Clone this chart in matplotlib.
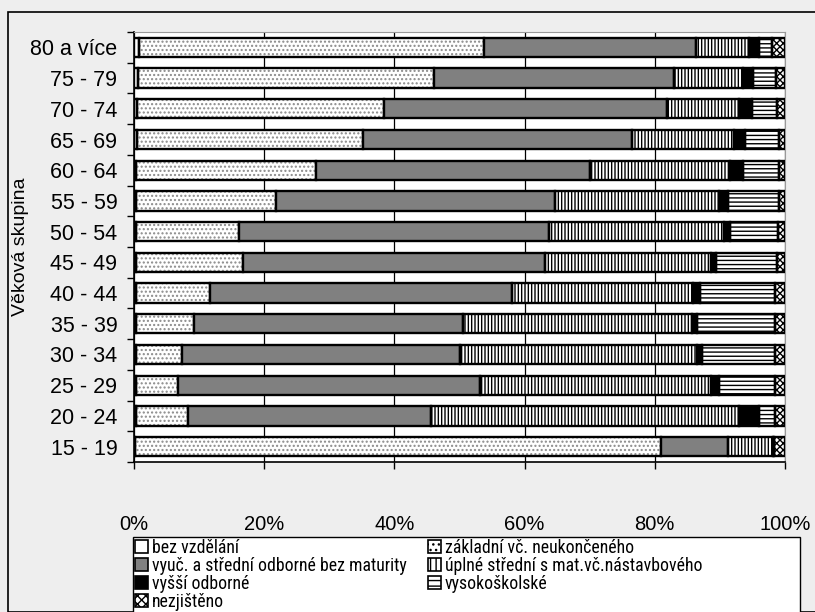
import matplotlib
matplotlib.use("Agg")
import matplotlib.pyplot as plt
from matplotlib.patches import Rectangle, Patch
from matplotlib import font_manager
import numpy as np

plt.rcParams['font.family'] = ['Liberation Sans', 'DejaVu Sans']

groups = ["15 - 19", "20 - 24", "25 - 29", "30 - 34", "35 - 39", "40 - 44", "45 - 49",
          "50 - 54", "55 - 59", "60 - 64", "65 - 69", "70 - 74", "75 - 79", "80 a více"]

series_names = ["bez vzdělání", "základní vč. neukončeného",
                "vyuč. a střední odborné bez maturity", "úplné střední s mat.vč.nástavbového",
                "vyšší odborné", "vysokoškolské", "nezjištěno"]

# shares in % (bottom group first)
bez_vzdelani = [0.1, 0.3, 0.3, 0.3, 0.3, 0.3, 0.3, 0.3, 0.3, 0.3, 0.4, 0.4, 0.6, 0.8]
zakladni     = [80.9, 8.0, 6.5, 7.1, 8.9, 11.4, 16.5, 15.8, 21.5, 27.7, 34.7, 38.0, 45.5, 52.9]
vyuc         = [10.3, 37.3, 46.4, 42.7, 41.4, 46.3, 46.3, 47.7, 42.8, 42.0, 41.4, 43.5, 36.8, 32.6]
uplne        = [6.9, 47.3, 35.4, 36.4, 35.1, 27.9, 25.5, 26.9, 25.2, 21.5, 15.7, 11.1, 10.7, 8.1]
vyssi        = [0.1, 3.1, 1.3, 0.8, 0.8, 1.1, 0.8, 0.9, 1.4, 2.1, 1.7, 1.9, 1.5, 1.6]
vysokoskolske = [0.0, 2.5, 8.5, 11.2, 12.0, 11.5, 9.4, 7.3, 7.9, 5.5, 5.2, 3.9, 3.5, 2.0]
nezjisteno   = [1.7, 1.5, 1.6, 1.5, 1.5, 1.5, 1.2, 1.1, 0.9, 0.9, 0.9, 1.2, 1.4, 2.0]

data = [bez_vzdelani, zakladni, vyuc, uplne, vyssi, vysokoskolske, nezjisteno]

# style: (facecolor, hatch, hatchcolor, legend hatch)
styles = [("white", None, None, None),
          ("white", "....", "#8a8a8a", "..."),
          ("#808080", None, None, None),
          ("white", "|||||", "black", "|||"),
          ("black", None, None, None),
          ("white", "----", "black", "---"),
          ("white", "xxxxx", "black", "xxxx")]

# pick a condensed font for the legend if one is installed
names = {f.name for f in font_manager.fontManager.ttflist}
narrow = None
for cand in ["Liberation Sans Narrow", "Roboto Condensed", "DejaVu Sans Condensed"]:
    if cand in names:
        narrow = cand
        break
if narrow is not None:
    leg_prop = {'family': [narrow, 'Liberation Sans'], 'size': 12.8}
else:
    leg_prop = {'family': ['Liberation Sans'], 'size': 11.8}

fig = plt.figure(figsize=(8.15, 6.12), dpi=100)
fig.patch.set_facecolor("#eeeeee")
fig.patches.append(Rectangle((8/815, 0), 1.0, 1 - 12/612, transform=fig.transFigure,
                             fill=False, edgecolor="black", linewidth=1.2))

ax = fig.add_axes([134/815, 1 - 462/612, 651/815, 430/612])
ax.set_facecolor("white")

y = np.arange(len(groups))
vals = np.array(data, dtype=float)
tot = vals.sum(axis=0)
pct = vals / tot * 100
left = np.zeros(len(groups))
h = 0.63
for i, name in enumerate(series_names):
    fc, hatch, hc, _ = styles[i]
    if hatch:
        ax.barh(y, pct[i], left=left, height=h, color=fc, edgecolor=hc, hatch=hatch,
                linewidth=0, zorder=2)
        ax.barh(y, pct[i], left=left, height=h, fill=False, edgecolor="black",
                linewidth=1.7, zorder=3)
    else:
        ax.barh(y, pct[i], left=left, height=h, color=fc, edgecolor="black",
                linewidth=1.7, zorder=3)
    left += pct[i]

ax.set_xlim(0, 100)
ax.set_ylim(-0.5, len(groups) - 0.5)
ax.set_xticks([0, 20, 40, 60, 80, 100])
ax.set_xticklabels(["0%", "20%", "40%", "60%", "80%", "100%"], fontsize=14.5)
ax.set_yticks(y)
ax.set_yticklabels(groups, fontsize=15.5)
ax.set_yticks(np.arange(len(groups) + 1) - 0.5, minor=True)
ax.tick_params(axis="y", which="major", length=0, pad=12)
ax.tick_params(axis="y", which="minor", length=5, width=1, direction="out")
ax.tick_params(axis="x", which="major", length=5, width=1, direction="out", pad=33)
ax.xaxis.grid(True, color="black", linewidth=0.9, zorder=1)
ax.set_axisbelow(True)
for s in ["top", "right"]:
    ax.spines[s].set_color("#999999")
for s in ["left", "bottom"]:
    ax.spines[s].set_color("black")
    ax.spines[s].set_linewidth(1.2)

ax.set_ylabel("Věková skupina", fontsize=14)
ax.yaxis.set_label_coords((29 - 134) / 651, 0.5)

handles = []
for i, name in enumerate(series_names):
    fc, hatch, hc, lh = styles[i]
    handles.append(Patch(facecolor=fc, edgecolor="black", hatch=lh, linewidth=1.2, label=name))
order = [0, 2, 4, 6, 1, 3, 5]
handles = [handles[k] for k in order]

# legend frame (extends past bottom of chart)
fig.patches.append(Rectangle((133/815, -0.05), 667/815, 1 - 537/612 + 0.05,
                             transform=fig.transFigure, facecolor="white",
                             edgecolor="black", linewidth=1.0))

leg = fig.legend(handles=handles, loc="upper left", ncol=2,
                 bbox_to_anchor=(134/815, 1 - 538/612),
                 prop=leg_prop,
                 frameon=False,
                 handlelength=0.75, handleheight=0.75, handletextpad=0.2,
                 borderpad=0.05, labelspacing=0.0, columnspacing=1.2, borderaxespad=0)

fig.savefig("out.png", dpi=100, facecolor=fig.get_facecolor())
